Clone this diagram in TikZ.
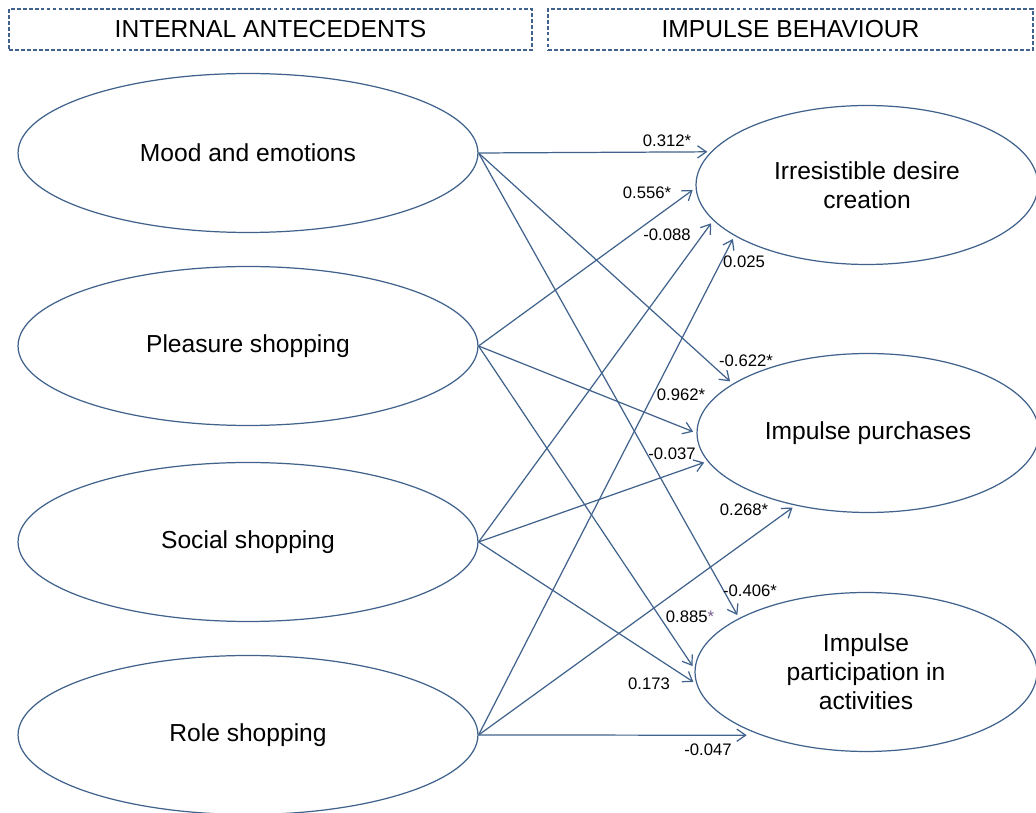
\documentclass[tikz,border=0pt]{standalone}
\usepackage{fontspec}
\setmainfont{Liberation Sans}
\usetikzlibrary{shapes.geometric,arrows.meta}
\definecolor{pathblue}{RGB}{64,98,140}
\definecolor{starpurple}{RGB}{120,90,140}
\tikzset{
    antecedent/.style={shape=ellipse,draw=pathblue,line width=0.7pt,inner sep=0pt,
        minimum width=9.2cm,minimum height=3.18cm,align=center,
        font=\fontsize{14}{16.5}\selectfont},
    behaviour/.style={antecedent,minimum width=6.84cm},
    heading/.style={draw=pathblue,dash pattern=on 2.2pt off 1.2pt,line width=0.7pt,
        inner sep=0pt,minimum height=0.82cm,font=\fontsize{14}{16.5}\selectfont},
    coef/.style={inner sep=0pt,font=\fontsize{9.5}{11}\selectfont},
    path/.style={draw=pathblue,line width=0.7pt,shorten >=2pt}
}
\begin{document}
\begin{tikzpicture}[x=0.02cm,y=-0.02cm,>={Straight Barb[length=5pt,width=7pt]}]
                \useasboundingbox (0,0) rectangle (1036,813);

                % headings
                \node[heading,minimum width=10.46cm] (H1) at (270.5,29.5) {INTERNAL ANTECEDENTS};
                \node[heading,minimum width=9.7cm] (H2) at (790.5,29.5) {IMPULSE BEHAVIOUR};

                % internal antecedents
                \node[antecedent] (M) at (248,153) {Mood and emotions};
                \node[antecedent] (P) at (248,346) {Pleasure shopping};
                \node[antecedent] (S) at (248,542) {Social shopping};
                \node[antecedent] (R) at (248,735) {Role shopping};

                % impulse behaviour
                \node[behaviour] (D) at (867,185) {Irresistible desire\\creation};
                \node[behaviour] (I) at (868,433) {Impulse purchases};
                \node[behaviour] (A) at (866,672) {Impulse\\participation in\\activities};

                % paths
                \path [->] (M.east) edge [path] (D.168.4);
                \path [->] (M.east) edge [path] (I.160);
                \path [->] (M.east) edge [path] (A.157);
                \path [->] (P.east) edge [path] (D.181);
                \path [->] (P.east) edge [path] (I.180);
                \path [->] (P.east) edge [path] (A.179);
                \path [->] (S.east) edge [path] (D.193);
                \path [->] (S.east) edge [path] (I.190);
                \path [->] (S.east) edge [path] (A.184);
                \path [->] (R.east) edge [path] (D.201);
                \path [->] (R.east) edge [path] (I.225);
                \path [->] (R.east) edge [path,shorten >=8pt] (A.211.5);

                % coefficients
                \node[coef] (c1) at (667,141) {0.312*};
                \node[coef] (c2) at (647,193) {0.556*};
                \node[coef] (c3) at (667,235) {-0.088};
                \node[coef] (c4) at (744,262) {0.025};
                \node[coef] (c5) at (746,361) {-0.622*};
                \node[coef] (c6) at (681,395) {0.962*};
                \node[coef] (c7) at (672,454) {-0.037};
                \node[coef] (c8) at (744,510) {0.268*};
                \node[coef] (c9) at (750,591) {-0.406*};
                \node[coef] (c10) at (690,617) {0.885\textcolor{starpurple}{*}};
                \node[coef] (c11) at (649,684) {0.173};
                \node[coef] (c12) at (708,750) {-0.047};
            \end{tikzpicture}
\end{document}
